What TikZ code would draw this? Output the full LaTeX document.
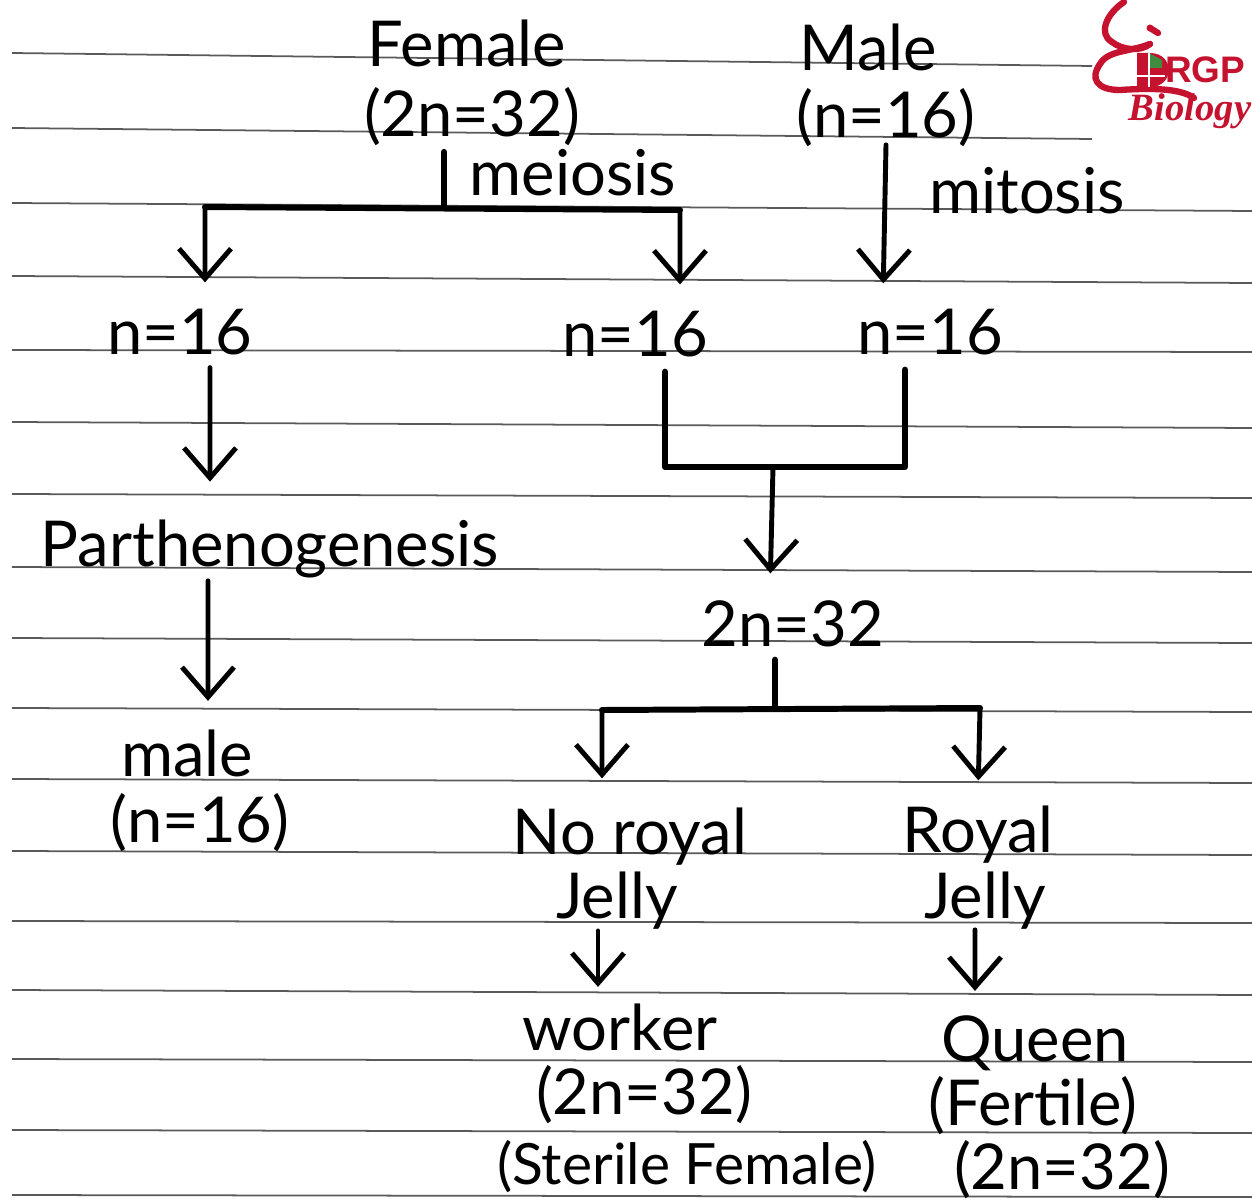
\documentclass[tikz,border=0pt]{standalone}
\usepackage{fontspec}
\setmainfont{Lato}
\newfontfamily\logofont{Liberation Serif}
\newfontfamily\logosans{Liberation Sans}
\usepackage{xcolor}
\usetikzlibrary{arrows.meta,positioning,calc}
\definecolor{logored}{HTML}{C4122F}
\definecolor{rulegray}{HTML}{5A5A5A}

\begin{document}
\begin{tikzpicture}[x=0.1mm,y=-0.1mm,>={Straight Barb[length=3mm,width=5.2mm]},
  hand/.style={inner sep=0pt,outer sep=0pt,font=\fontsize{18}{22}\selectfont,text height=16pt,text depth=2pt},
  conn/.style={line width=1.4pt,line cap=round},
  wire/.style={line width=1.7pt,line cap=round,line join=round},
  rulel/.style={draw=rulegray,line width=0.5pt},
  stetho/.style={draw=logored,line width=1.8pt,line cap=round}]
\useasboundingbox (0,0) rectangle (1252,1200);
% ruled paper
\foreach \yl/\yr/\xe in {53/66/1092,128/139/1092,203/211/1252,276/283/1252,350/352/1252,422/428/1252,
  494/498/1252,567/572/1252,638/643/1252,708/712/1252,779/783/1252,851/855/1252,921/923/1252,
  990/995/1252,1059/1062/1252,1130/1133/1252,1195/1197/1252}
  \draw[rulel] (12,\yl) -- (\xe,\yr);
% top row
\node[hand] (female) at (467,42) {Female};
\node[hand,below=0.7mm of female,xshift=0.5mm] (ftwon) {(2n=32)};
\node[hand] (male) at (868,46) {Male};
\node[hand,below=0.4mm of male,xshift=1.8mm] (mn) {(n=16)};
\node[hand,below=0mm of ftwon,xshift=10.1mm,yshift=0.5mm] (meiosis) {meiosis};
\node[hand,below=1.2mm of mn,xshift=14.1mm] (mitosis) {mitosis};
% gametes
\node[hand] (nleft) at (180,330) {n=16};
\node[hand] (nmid) at (635,332) {n=16};
\node[hand] (nright) at (930,330) {n=16};
\coordinate (busl) at (205,207);
\coordinate (busr) at (680,210);
\draw[wire,shorten <=0.8mm] ([xshift=-2.8mm]ftwon.south) -- ++(0,62);
\draw[wire] (busl) -- (busr);
\draw[conn,->,shorten >=1.6mm] (busl) -- ([xshift=2.5mm]nleft.north);
\draw[conn,->,shorten >=1.6mm] (busr) -- ([xshift=4.5mm]nmid.north);
\draw[conn,->,shorten >=1.5mm] (mn.south) -- ([xshift=-4.7mm]nright.north);
% left branch
\node[hand,below=14.9mm of nleft,xshift=9mm] (parth) {Parthenogenesis};
\node[hand,below=14.6mm of parth,xshift=-8.3mm] (mle) {male};
\node[hand,below=0.3mm of mle,xshift=1.3mm] (mletwo) {(n=16)};
\draw[conn,->,shorten <=0.6mm,shorten >=2.9mm] ([xshift=3mm]nleft.south) -- ([xshift=-6mm]parth.north);
\draw[conn,->,shorten <=0.7mm,shorten >=1.9mm] ([xshift=-6.2mm]parth.south) -- ([xshift=2.1mm]mle.north);
% fusion
\node[hand] (zyg) at (793,622) {2n=32};
\coordinate (joinb) at (773,467);
\draw[wire,shorten <=0.8mm,shorten >=0.8mm] ([xshift=3mm]nmid.south) |- (joinb) -| ([xshift=-2.5mm]nright.south);
\draw[conn,->,shorten >=1.7mm] (joinb) -- ([xshift=-2.3mm]zyg.north);
% royal jelly
\node[hand] (noroyal) at (630,830) {No royal};
\node[hand,below=0.1mm of noroyal,xshift=-1.3mm] (nojelly) {Jelly};
\node[hand] (royal) at (978,828) {Royal};
\node[hand,below=0.3mm of royal,xshift=0.7mm] (rjelly) {Jelly};
\coordinate (busa) at (602,710);
\coordinate (busb) at (980,708);
\draw[wire,shorten <=0.6mm] ([xshift=-1.8mm]zyg.south) -- ++(0,54);
\draw[wire] (busa) -- (busb);
\draw[conn,->,shorten >=2mm] (busa) -- ([xshift=-2.8mm]noroyal.north);
\draw[conn,->,shorten >=1.6mm] (busb) -- (royal.north);
% castes
\node[hand,below=6.8mm of nojelly,xshift=0.3mm] (worker) {worker};
\node[hand,below=0.1mm of worker,xshift=2.4mm] (wtwon) {(2n=32)};
\node[hand,below=0.7mm of wtwon,xshift=4.3mm,font=\fontsize{16.2}{20}\selectfont] (sterile) {(Sterile Female)};
\node[hand,below=7.9mm of rjelly,xshift=5mm] (queen) {Queen};
\node[hand,below=0.1mm of queen,xshift=-0.2mm] (fertile) {(Fertile)};
\node[hand,below=0.1mm of fertile,xshift=2.9mm] (qtwon) {(2n=32)};
\draw[conn,->,shorten <=0.5mm,shorten >=0.7mm] ([xshift=-1.9mm]nojelly.south) -- ([xshift=-2.2mm]worker.north);
\draw[conn,->,shorten <=0.4mm,shorten >=1.4mm] ([xshift=-1mm]rjelly.south) -- ([xshift=-6mm]queen.north);
% logo
\draw[stetho] (1124,2) .. controls (1106,14) and (1098,34) .. (1112,42) .. controls (1122,50) and (1140,52) .. (1150,44);
\draw[stetho] (1150,44) .. controls (1130,52) and (1108,50) .. (1100,64) .. controls (1090,78) and (1096,90) .. (1120,90) .. controls (1150,88) and (1180,88) .. (1194,98);
\fill[logored] (1150,28) circle (3.5);
\draw[stetho] (1150,28) -- (1158,33);
\fill[logored] (1137,53) -- (1150,53) .. controls (1175,53) and (1175,87) .. (1150,87) -- (1137,87) -- cycle;
\fill[rulegray!70!green] (1149,53) -- (1162,60) -- (1162,68) -- (1149,68) -- cycle;
\draw[white,line width=0.5pt] (1137,76) -- (1165,76) (1149,53) -- (1149,87);
\node[inner sep=0pt,text=logored,font=\logosans\bfseries\fontsize{10.5}{12}\selectfont] (rgp) at (1205,70) {RGP};
\node[inner sep=0pt,text=logored,font=\logofont\bfseries\itshape\fontsize{11}{13}\selectfont] (bio) at (1190,111) {Biology};
\end{tikzpicture}
\end{document}
